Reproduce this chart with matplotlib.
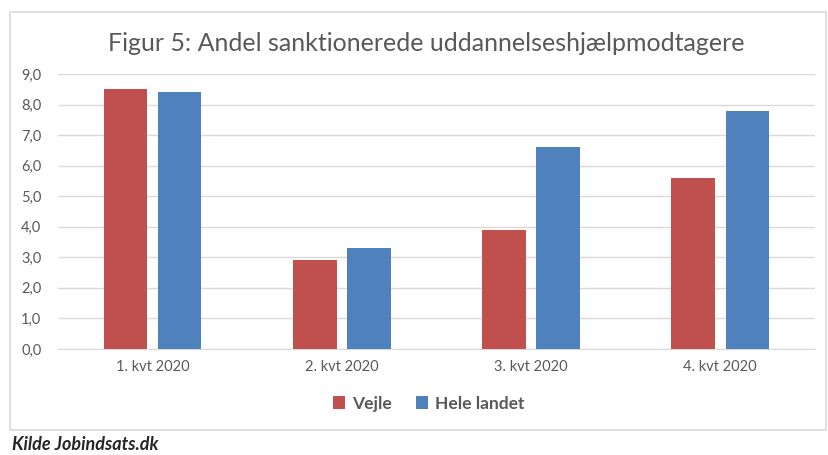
import matplotlib
matplotlib.use("Agg")
import matplotlib.pyplot as plt
import numpy as np
from matplotlib.patches import Rectangle

categories = ["1. kvt 2020", "2. kvt 2020", "3. kvt 2020", "4. kvt 2020"]
vejle = [8.5, 2.9, 3.9, 5.6]
hele_landet = [8.4, 3.3, 6.6, 7.8]
y_ticks = [0, 1, 2, 3, 4, 5, 6, 7, 8, 9]

RED = "#C0504D"
BLUE = "#4F81BD"
GREY_TXT = "#595959"

plt.rcParams["font.family"] = ["Lato", "DejaVu Sans"]

fig = plt.figure(figsize=(8.29, 4.55), dpi=100)
fig.patch.set_facecolor("white")

# chart frame (light grey border, like an Excel chart area)
fig.patches.append(Rectangle((0.012, 0.055), 0.984, 0.919, transform=fig.transFigure,
                             facecolor="none", edgecolor="#d9d9d9", linewidth=1.2, zorder=-1))

ax = fig.add_axes([0.070, 0.233, 0.913, 0.6044])
ax.set_facecolor("none")

x = np.arange(len(categories))
w = 0.23
off = 0.143
ax.bar(x - off, vejle, width=w, color=RED, label="Vejle", zorder=3)
ax.bar(x + off, hele_landet, width=w, color=BLUE, label="Hele landet", zorder=3)

ax.set_xlim(-0.5, len(categories) - 0.5)
ax.set_ylim(0, 9)
ax.set_yticks(y_ticks)
ax.set_yticklabels([f"{v:.1f}".replace(".", ",") for v in y_ticks])
ax.set_xticks(x)
ax.set_xticklabels(categories)

ax.grid(axis="y", color="#d9d9d9", linewidth=1.0, zorder=0)
for s in ["top", "right", "left"]:
    ax.spines[s].set_visible(False)
ax.spines["bottom"].set_color("#d9d9d9")
ax.tick_params(axis="both", length=0, colors=GREY_TXT, labelsize=10.5)
ax.tick_params(axis="y", pad=12)
ax.tick_params(axis="x", pad=8)

fig.text(0.514, 0.905, "Figur 5: Andel sanktionerede uddannelseshjælpmodtagere",
         ha="center", va="center", fontsize=18, color=GREY_TXT)

fig.legend(loc="center", bbox_to_anchor=(0.517, 0.113), ncol=2, frameon=False,
           handlelength=0.7, handleheight=0.7, handletextpad=0.4,
           columnspacing=1.4, labelcolor=GREY_TXT, prop={"weight": "bold", "size": 12.5})

fig.text(0.014, 0.024, "Kilde Jobindsats.dk", ha="left", va="center",
         fontsize=13, style="italic", weight="bold", color="#262626")

fig.savefig("out.png", dpi=100)
